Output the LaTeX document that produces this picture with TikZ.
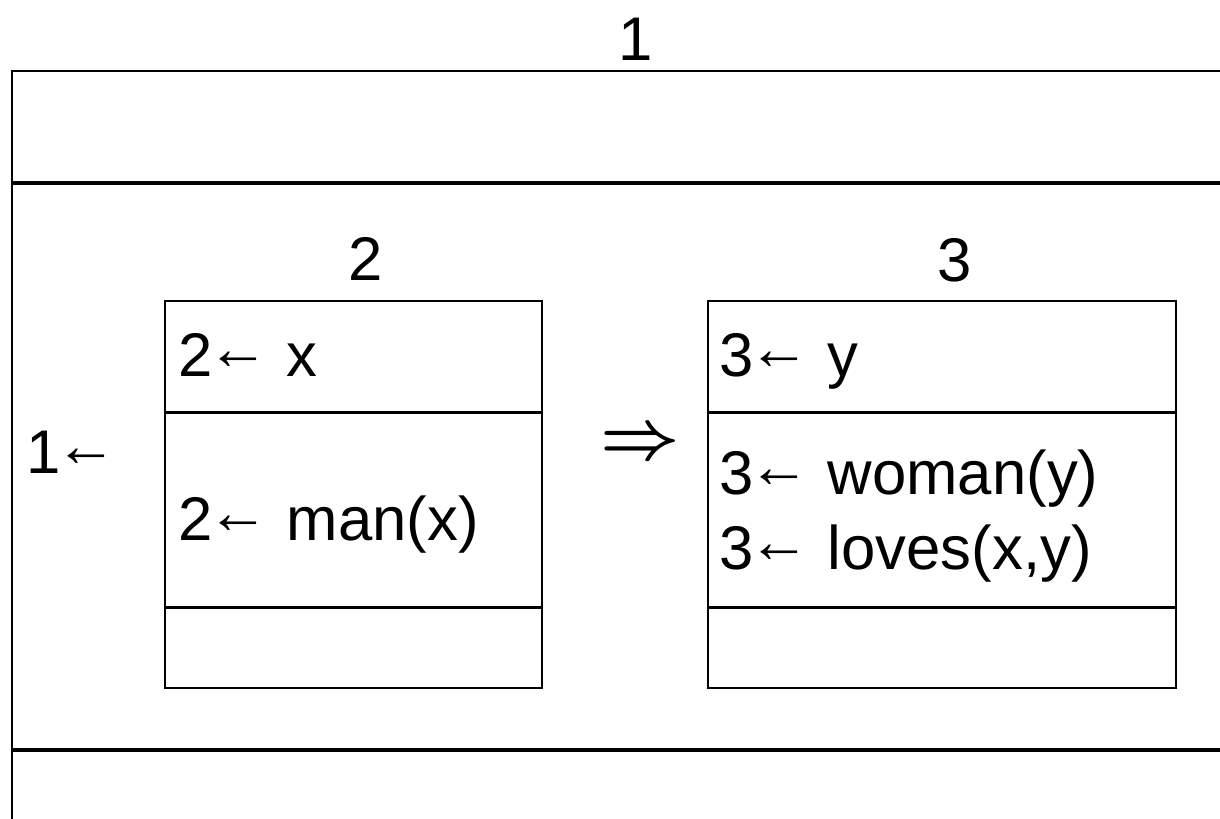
\documentclass[tikz,border=0pt]{standalone}
\usepackage{fontspec}
\setmainfont{Liberation Sans}
\usepackage{tikz}
\usetikzlibrary{positioning}
\newcommand{\bindarrow}{\kern-1.5pt\raisebox{2.2pt}{←}}
\tikzset{
  frame/.style={draw, line width=0.6pt, inner sep=0pt, minimum width=368.7pt},
  cell/.style={draw, line width=0.5pt, inner sep=0pt},
  cell2/.style={cell, minimum width=113.1pt},
  cell3/.style={cell, minimum width=140.4pt},
  txt/.style={inner sep=0pt, anchor=base west, font=\fontsize{18.5}{22}\selectfont},
  lbl/.style={txt, anchor=base},
}
\begin{document}
\begin{tikzpicture}[x=0.3pt, y=-0.3pt]
      \clip (0,0) rectangle (1220,819);
      \node[frame, minimum height=33.3pt, anchor=north west] (otop) at (11,70) {};
      \node[frame, minimum height=169.5pt, below=0pt of otop] (omid) {};
      \node[frame, minimum height=30pt, below=0pt of omid] (obot) {};
      \draw[line width=1pt] (omid.south west) -- (omid.south east);
      \node[lbl] (lbl1) at (636,61) {1};
      \node[txt] (bind1) at (26,474) {1\bindarrow};
      \node[cell2, minimum height=33.3pt, anchor=north west] (b2top) at (164,300) {};
      \node[cell2, minimum height=57.9pt, below=0pt of b2top] (b2mid) {};
      \node[cell2, minimum height=24pt, below=0pt of b2mid] (b2bot) {};
      \node[lbl] (lbl2) at (366,281) {2};
      \node[txt] (b2x) at (178,377) {2\bindarrow\ x};
      \node[txt] (b2man) at (178,541) {2\bindarrow\ man(x)};
      \node[cell3, minimum height=33.3pt, anchor=north west] (b3top) at (707,300) {};
      \node[cell3, minimum height=57.9pt, below=0pt of b3top] (b3mid) {};
      \node[cell3, minimum height=24pt, below=0pt of b3mid] (b3bot) {};
      \node[lbl] (lbl3) at (955,282) {3};
      \node[txt] (b3y) at (719,377) {3\bindarrow\ y};
      \node[txt] (b3woman) at (719,495) {3\bindarrow\ woman(y)};
      \node[txt] (b3loves) at (719,570) {3\bindarrow\ loves(x,y)};
      \node[inner sep=0pt, font=\fontsize{20.5}{24}\selectfont\boldmath] (impl) at (640,445) {$\Rightarrow$};
    \end{tikzpicture}
\end{document}
